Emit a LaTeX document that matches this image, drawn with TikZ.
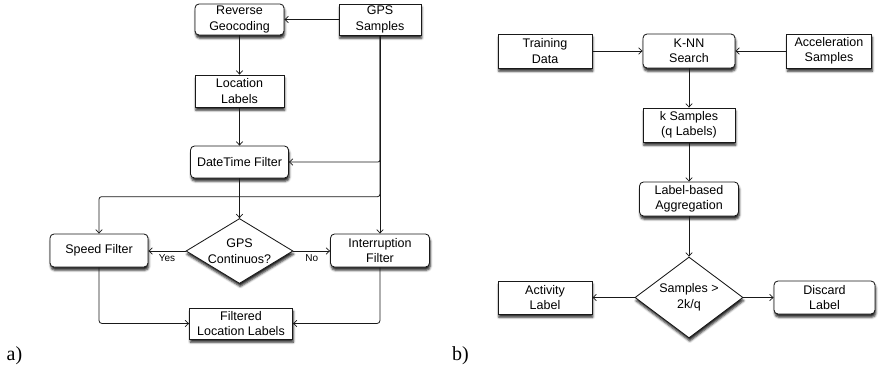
\documentclass[tikz,border=0pt]{standalone}
\usepackage{fontspec}
\newfontfamily\boxfont{Liberation Sans}
\newfontfamily\tagfont{Liberation Serif}
\usetikzlibrary{arrows.meta,shapes.geometric,shadows.blur}

\tikzset{
  box/.style={draw=black!90, line width=0.85pt, fill=white, align=center,
    inner sep=0pt, font=\boxfont\fontsize{12.5}{15.5}\selectfont,
    blur shadow={shadow xshift=0.8pt, shadow yshift=-3.2pt,
      shadow blur radius=2.2pt, shadow opacity=85}},
  rbox/.style={box, rounded corners=4pt},
  decision/.style={box, diamond, minimum width=107pt, minimum height=65pt},
  arr/.style={draw=black!90, line width=0.8pt,
    -{Straight Barb[length=3.5pt,width=6.5pt,line width=0.7pt]}},
  edgetag/.style={font=\boxfont\fontsize{10}{12}\selectfont, inner sep=2pt},
  paneltag/.style={font=\tagfont\fontsize{20}{22}\selectfont, anchor=base west, inner sep=0pt}
}

\begin{document}
\begin{tikzpicture}[x=1pt, y=-1pt]
\useasboundingbox (0,0) rectangle (880,368);

% ---- a) GPS processing chain ----
\node[rbox, minimum width=89pt, minimum height=31pt] (rg) at (239.5,19.5) {Reverse\\Geocoding};
\node[box, minimum width=82pt, minimum height=31pt] (gps) at (380,19.5) {GPS\\Samples};
\node[box, minimum width=89pt, minimum height=32pt] (ll) at (239.5,91) {Location\\Labels};
\node[rbox, minimum width=98pt, minimum height=32pt] (dt) at (239.5,162) {DateTime Filter};
\node[rbox, minimum width=98pt, minimum height=33pt] (sf) at (99,250.5) {Speed Filter};
\node[decision, label={[align=center, font=\boxfont\fontsize{12.5}{15.5}\selectfont]center:GPS\\Continuos?}] (gc) at (239.5,251) {};
\node[rbox, minimum width=99pt, minimum height=33pt] (ifl) at (380,250.5) {Interruption\\Filter};
\node[box, minimum width=103pt, minimum height=31pt] (fll) at (241,323.5) {Filtered\\Location Labels};
\coordinate (split) at (380,196.7);

\draw[arr] (gps) -- (rg);
\draw[arr] (rg) -- (ll);
\draw[arr] (ll) -- (dt);
\draw[arr, rounded corners=2pt] (gps.south) |- (dt.east);
\draw[arr] (gps.south) -- (ifl.north);
\draw[arr, rounded corners=2.5pt] (gps.south) -- (split) -| (sf.north);
\draw[arr] (dt) -- (gc);
\draw[arr] (gc.west) -- node[edgetag, below=1pt] {Yes} (sf.east |- gc.west);
\draw[arr] (gc.east) -- node[edgetag, below=1pt] {No} (ifl.west |- gc.east);
\draw[arr, rounded corners=3pt] (sf.south) |- (fll.west);
\draw[arr, rounded corners=3pt] (ifl.south) |- (fll.east);

\node[paneltag] (ta) at (6.5,360) {a)};

% ---- b) k-NN activity labelling ----
\node[box, minimum width=94pt, minimum height=34pt] (td) at (545,51) {Training\\Data};
\node[rbox, minimum width=92pt, minimum height=34pt] (knn) at (689,51) {K-NN\\Search};
\node[box, minimum width=85pt, minimum height=34pt] (acc) at (829,51) {Acceleration\\Samples};
\node[box, minimum width=92pt, minimum height=34pt] (ks) at (689,125) {k Samples\\(q Labels)};
\node[rbox, minimum width=99pt, minimum height=34pt] (lba) at (689,199) {Label-based\\Aggregation};
\node[decision, minimum width=108pt, minimum height=81pt,
  label={[align=center, font=\boxfont\fontsize{12.5}{15.5}\selectfont]center:Samples >\\2k/q}] (sk) at (689,297.5) {};
\node[box, minimum width=94pt, minimum height=33pt] (al) at (545,297.5) {Activity\\Label};
\node[rbox, minimum width=101pt, minimum height=33pt] (dl) at (824.5,297.5) {Discard\\Label};

\draw[arr] (td) -- (knn);
\draw[arr] (acc) -- (knn);
\draw[arr] (knn) -- (ks);
\draw[arr] (ks) -- (lba);
\draw[arr] (lba) -- (sk);
\draw[arr] (sk) -- (al);
\draw[arr] (sk) -- (dl);

\node[paneltag] (tb) at (452,360) {b)};
\end{tikzpicture}
\end{document}
